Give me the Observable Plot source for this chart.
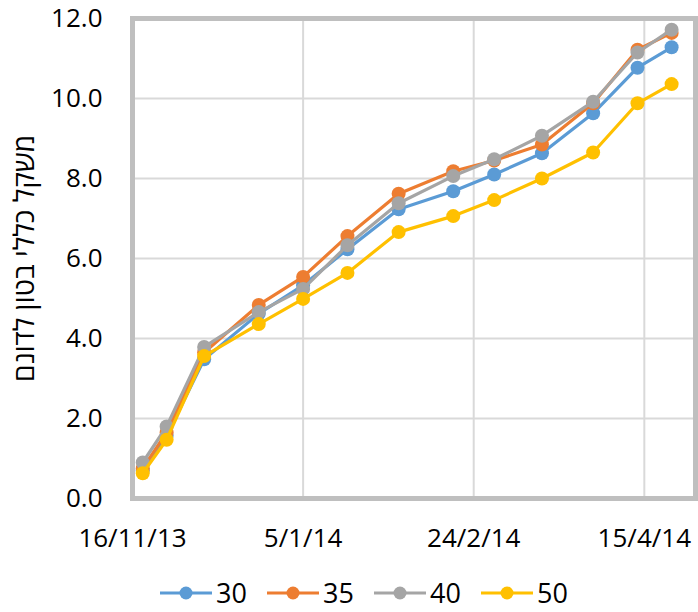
<!DOCTYPE html>
<html>
<head>
<meta charset="utf-8">
<script src="https://cdn.jsdelivr.net/npm/d3@7"></script>
<script src="https://cdn.jsdelivr.net/npm/@observablehq/plot@0.6"></script>
<style>
  body { margin: 0; background: #fff; }
  #wrap { width: 698px; font-family: 'Open Sans', 'Liberation Sans', 'DejaVu Sans', sans-serif; }
  #legend { position: relative; width: 698px; height: 52px; }
  .item { position: absolute; top: 17px; height: 32px; display: flex; align-items: center; }
  .item span { font-size: 27px; color: #000; margin-left: 4px; line-height: 32px; }
</style>
</head>
<body>
<div id="wrap"></div>
<script>
const dates = ["2013-11-19","2013-11-26","2013-12-07","2013-12-23","2014-01-05","2014-01-18","2014-02-02","2014-02-18","2014-03-02","2014-03-16","2014-03-31","2014-04-13","2014-04-23"];
const seriesNames = ["30","35","40","50"];
const seriesColors = ["#5b9bd5","#ed7d31","#a5a5a5","#ffc000"];
const v30 = [0.70,1.57,3.48,4.62,5.33,6.23,7.23,7.68,8.10,8.63,9.63,10.77,11.28];
const v35 = [0.75,1.65,3.65,4.84,5.54,6.56,7.62,8.18,8.45,8.85,9.88,11.22,11.64];
const v40 = [0.90,1.80,3.79,4.66,5.24,6.33,7.38,8.06,8.48,9.07,9.92,11.15,11.72];
const v50 = [0.63,1.47,3.56,4.36,4.99,5.64,6.66,7.06,7.46,8.00,8.65,9.88,10.36];
const xTickDates = ["2013-11-16","2014-01-05","2014-02-24","2014-04-15"];
const yTicks = [0,2,4,6,8,10,12];
const xDomain = ["2013-11-16","2014-04-30"];
const yLabel = "משקל כללי בטון לדונם";

const values = [v30, v35, v40, v50];
const rows = [];
seriesNames.forEach((s, i) => {
  dates.forEach((d, j) => rows.push({series: s, date: new Date(d), value: values[i][j]}));
});
const xTicks = xTickDates.map(d => new Date(d));
const fmt = d => `${d.getUTCDate()}/${d.getUTCMonth() + 1}/${String(d.getUTCFullYear()).slice(2)}`;
const font = "'Open Sans', 'Liberation Sans', 'DejaVu Sans', sans-serif";

const seriesMarks = [];
seriesNames.forEach((s, i) => {
  const data = rows.filter(r => r.series === s);
  seriesMarks.push(Plot.line(data, {x: "date", y: "value", stroke: seriesColors[i], strokeWidth: 3.2, strokeLinejoin: "round"}));
  seriesMarks.push(Plot.dot(data, {x: "date", y: "value", fill: seriesColors[i], r: 7}));
});

const chart = Plot.plot({
  width: 698,
  height: 560,
  marginLeft: 132,
  marginRight: 3,
  marginTop: 18,
  marginBottom: 62,
  style: {fontFamily: font, background: "#fff"},
  x: {type: "utc", domain: xDomain.map(d => new Date(d))},
  y: {domain: [0, 12]},
  marks: [
    Plot.gridX(xTicks, {stroke: "#d9d9d9", strokeOpacity: 1, strokeWidth: 2}),
    Plot.gridY(yTicks, {stroke: "#d9d9d9", strokeOpacity: 1, strokeWidth: 2}),
    Plot.frame({stroke: "#bfbfbf", strokeWidth: 5}),
    Plot.axisX(xTicks, {tickSize: 0, tickPadding: 30, tickFormat: fmt, fontSize: 26, fill: "#000", label: null}),
    Plot.axisY(yTicks, {tickSize: 0, tickPadding: 30, tickFormat: d => d.toFixed(1), fontSize: 26, fill: "#000", label: null}),
    ...seriesMarks,
    Plot.text([yLabel], {text: d => d, frameAnchor: "left", textAnchor: "middle", dx: -107, rotate: -90, fontSize: 28, fill: "#000"})
  ]
});

const wrap = document.getElementById("wrap");
wrap.appendChild(chart);

const legend = document.createElement("div");
legend.id = "legend";
seriesNames.forEach((s, i) => {
  const item = document.createElement("div");
  item.className = "item";
  item.style.left = (160 + i * 107) + "px";
  item.innerHTML = `<svg width="52" height="20"><line x1="0" y1="10" x2="52" y2="10" stroke="${seriesColors[i]}" stroke-width="3.2"/><circle cx="26" cy="10" r="6.5" fill="${seriesColors[i]}"/></svg><span>${s}</span>`;
  legend.appendChild(item);
});
wrap.appendChild(legend);
</script>
</body>
</html>
